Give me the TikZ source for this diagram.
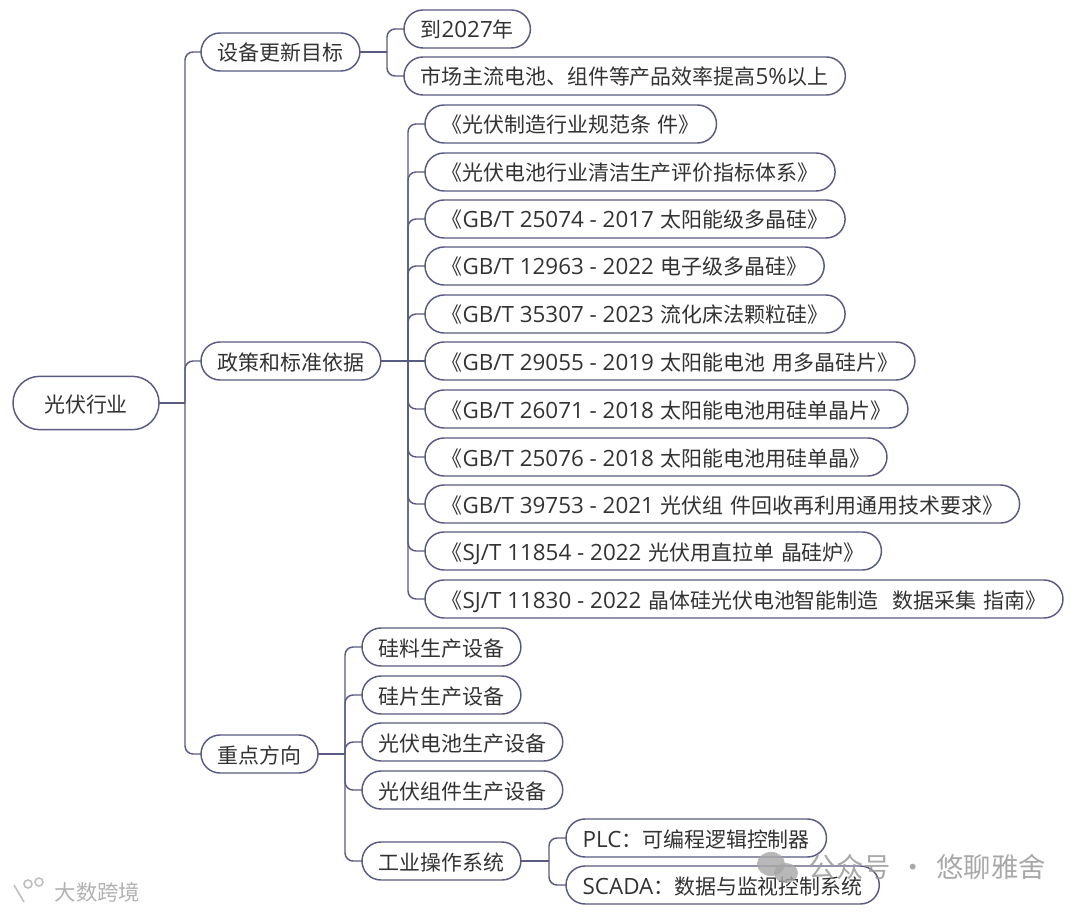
\documentclass[tikz,border=0pt]{standalone}
\usepackage{fontspec}
\setmainfont[WordSpace=1.5]{Noto Sans CJK SC}
\newfontfamily\latinfont[Scale=1.07]{Open Sans}
\newcommand{\lat}[1]{{\latinfont #1}}
\usetikzlibrary{shapes.misc}
\definecolor{linkblue}{RGB}{88,91,130}
\definecolor{inkgrey}{RGB}{50,50,50}
\tikzset{
  topic/.style={draw=linkblue,line width=1.1pt,rounded rectangle,anchor=west,outer sep=0pt,
    inner xsep=10.5pt,inner ysep=0pt,minimum height=28.5pt,text=inkgrey,text height=14pt,text depth=0.5pt,
    font=\fontsize{15.7pt}{18pt}\selectfont},
  rootbox/.style={topic,inner xsep=22pt,minimum height=40pt},
  link/.style={draw=linkblue,line width=1.1pt,rounded corners=6pt}
}
\begin{document}
\begin{tikzpicture}[x=0.75pt,y=-0.75pt]
\useasboundingbox (0,0) rectangle (1080,912);

% Root and first level
\node [rootbox] (hangye) at (13,403) {光伏行业};
\node [topic] (mubiao) at (201,52) {设备更新目标};
\node [topic] (yiju) at (201,361) {政策和标准依据};
\node [topic] (fangxiang) at (201,754) {重点方向};

% Targets
\node [topic] (nian) at (404,29) {到\lat{2027}年};
\node [topic] (xiaolv) at (404,76) {市场主流电池、组件等产品效率提高\lat{5\%}以上};

% Standards
\node [topic] (guifan) at (425,124) {《光伏制造行业规范条 件》};
\node [topic] (qingjie) at (425,172) {《光伏电池行业清洁生产评价指标体系》};
\node [topic] (gb25074) at (425,219) {《\lat{GB/T 25074 - 2017} 太阳能级多晶硅》};
\node [topic] (gb12963) at (425,266) {《\lat{GB/T 12963 - 2022} 电子级多晶硅》};
\node [topic] (gb35307) at (425,314) {《\lat{GB/T 35307 - 2023} 流化床法颗粒硅》};
\node [topic] (gb29055) at (425,361) {《\lat{GB/T 29055 - 2019} 太阳能电池 用多晶硅片》};
\node [topic] (gb26071) at (425,409) {《\lat{GB/T 26071 - 2018} 太阳能电池用硅单晶片》};
\node [topic] (gb25076) at (425,457) {《\lat{GB/T 25076 - 2018} 太阳能电池用硅单晶》};
\node [topic] (gb39753) at (425,504) {《\lat{GB/T 39753 - 2021} 光伏组 件回收再利用通用技术要求》};
\node [topic] (sj11854) at (425,551) {《\lat{SJ/T 11854 - 2022} 光伏用直拉单 晶硅炉》};
\node [topic] (sj11830) at (425,599) {《\lat{SJ/T 11830 - 2022} 晶体硅光伏电池智能制造 \ 数据采集 指南》};

% Key directions
\node [topic] (guiliao) at (362,647) {硅料生产设备};
\node [topic] (guipian) at (362,695) {硅片生产设备};
\node [topic] (dianchi) at (362,742) {光伏电池生产设备};
\node [topic] (zujian) at (362,790) {光伏组件生产设备};
\node [topic] (gongye) at (362,861) {工业操作系统};
\node [topic] (plc) at (566,838) {\lat{PLC}：可编程逻辑控制器};
\node [topic] (scada) at (566,885) {\lat{SCADA}：数据与监视控制系统};

% Joints of the branches
\coordinate (hangyeJ) at (185,403);
\coordinate (mubiaoJ) at (387,52);
\coordinate (yijuJ) at (408,361);
\coordinate (fangxiangJ) at (345,754);
\coordinate (gongyeJ) at (549,861);

% Drawing links from root
\draw [link] (hangye.east) -- (hangyeJ);
\draw [link] (hangyeJ) |- (mubiao.west);
\draw [link] (hangyeJ) |- (yiju.west);
\draw [link] (hangyeJ) |- (fangxiang.west);

% Drawing links to targets
\draw [link] (mubiao.east) -- (mubiaoJ);
\draw [link] (mubiaoJ) |- (nian.west);
\draw [link] (mubiaoJ) |- (xiaolv.west);

% Drawing links to standards
\draw [link] (yiju.east) -- (gb29055.west);
\draw [link] (yijuJ) |- (guifan.west);
\draw [link] (yijuJ) |- (qingjie.west);
\draw [link] (yijuJ) |- (gb25074.west);
\draw [link] (yijuJ) |- (gb12963.west);
\draw [link] (yijuJ) |- (gb35307.west);
\draw [link] (yijuJ) |- (gb26071.west);
\draw [link] (yijuJ) |- (gb25076.west);
\draw [link] (yijuJ) |- (gb39753.west);
\draw [link] (yijuJ) |- (sj11854.west);
\draw [link] (yijuJ) |- (sj11830.west);

% Drawing links to key directions
\draw [link] (fangxiang.east) -- (fangxiangJ);
\draw [link] (fangxiangJ) |- (guiliao.west);
\draw [link] (fangxiangJ) |- (guipian.west);
\draw [link] (fangxiangJ) |- (dianchi.west);
\draw [link] (fangxiangJ) |- (zujian.west);
\draw [link] (fangxiangJ) |- (gongye.west);
\draw [link] (gongye.east) -- (gongyeJ);
\draw [link] (gongyeJ) |- (plc.west);
\draw [link] (gongyeJ) |- (scada.west);

% Watermarks
\fill [black!35,opacity=0.8] (771,864) ellipse (14 and 12);
\fill [black!35,opacity=0.8] (786,873) ellipse (12 and 10);
\node [anchor=west,text=black!40,opacity=0.85,font=\fontsize{20.5pt}{24pt}\selectfont] (gongzhonghao) at (804,867) {公众号 · 悠聊雅舍};
\draw [black!25,line width=1.2pt] (14,885) -- (24,902) (28,884) circle (4) (39,882) circle (4);
\node [anchor=west,text=black!30,font=\fontsize{16pt}{20pt}\selectfont] (dashu) at (50,892) {大数跨境};
\end{tikzpicture}
\end{document}
